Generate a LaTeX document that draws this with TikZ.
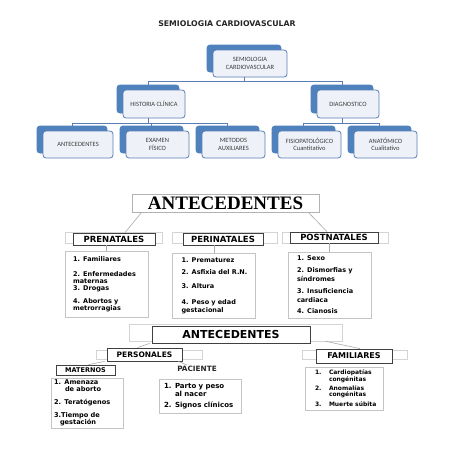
\documentclass[tikz,border=0pt]{standalone}
\usepackage{fontspec}
\setmainfont{DejaVu Sans}
\newfontfamily\calfont{Carlito}
\newfontfamily\timesfont{Liberation Serif}
\usetikzlibrary{shadows}
\definecolor{blueback}{HTML}{4F81BD}
\definecolor{blueline}{HTML}{5B7DB5}
\definecolor{bluefront}{HTML}{EEF2F8}
\definecolor{txtgray}{HTML}{3A3A3A}
\definecolor{bandgray}{HTML}{D4D4D4}
\definecolor{headgray}{HTML}{404040}
\definecolor{listgray}{HTML}{C4C4C4}

\begin{document}
\begin{tikzpicture}[x=1pt,y=-1pt,
  blbox/.style={draw=blueline, fill=bluefront, rounded corners=3pt, line width=0.8pt,
    minimum height=27pt, inner sep=1pt, align=center, text=txtgray,
    font=\calfont\fontsize{6.5}{7.5}\selectfont,
    copy shadow={shadow xshift=-6pt, shadow yshift=5pt, fill=blueback, draw=blueback}},
  link/.style={draw=blueline, line width=0.9pt},
  band/.style={draw=bandgray, line width=0.5pt, fill=white, inner sep=0pt},
  head/.style={draw=headgray, line width=0.8pt, fill=white, inner sep=0pt,
    font=\bfseries\fontsize{8.5}{9}\selectfont},
  listbox/.style={draw=listgray, line width=0.6pt, fill=white, align=left, inner ysep=0pt,
    inner xsep=8pt, font=\bfseries\fontsize{6.5}{7}\selectfont},
  spoke/.style={draw=gray!65, line width=0.6pt}]
\fill[white] (0,0) rectangle (453,453);
\useasboundingbox (0,0) rectangle (453,453);

% first chart
\node[font=\bfseries\fontsize{7.8}{8}\selectfont, text=black!85] (title) at (227,24) {SEMIOLOGIA CARDIOVASCULAR};
\node[blbox, minimum width=74pt] (semio) at (250,63.5) {SEMIOLOGIA\\CARDIOVASCULAR};
\node[blbox, minimum width=62pt, minimum height=28pt] (hist) at (154,104) {HISTORIA CLÍNICA};
\node[blbox, minimum width=62pt, minimum height=28pt] (diag) at (348,104) {DIAGNOSTICO};
\node[blbox, minimum width=70pt] (ant1) at (78,144.5) {ANTECEDENTES};
\node[blbox, minimum width=63pt] (exam) at (157.5,144.5) {EXAMEN\\FÍSICO};
\node[blbox, minimum width=63pt] (meto) at (233.5,144.5) {METODOS\\AUXILIARES};
\node[blbox, minimum width=63pt] (fisio) at (309.5,144.5) {FISIOPATOLÓGICO\\Cuantitativo};
\node[blbox, minimum width=63pt] (anat) at (385.5,144.5) {ANATÓMICO\\Cualitativo};

\draw[link] ([xshift=-6pt]semio.south) -- ++(0,4) coordinate (hub1);
\draw[link] (hub1) -| ([xshift=-6pt,yshift=5pt]hist.north);
\draw[link] (hub1) -| ([xshift=-6pt,yshift=5pt]diag.north);
\draw[link] ([xshift=-6pt]hist.south) -- ++(0,5) coordinate (hub2);
\draw[link] (hub2) -| ([xshift=-6pt,yshift=5pt]ant1.north);
\draw[link] (hub2) -| ([xshift=-6pt,yshift=5pt]exam.north);
\draw[link] (hub2) -| ([xshift=-6pt,yshift=5pt]meto.north);
\draw[link] ([xshift=-6pt]diag.south) -- ++(0,5) coordinate (hub3);
\draw[link] (hub3) -| ([xshift=-6pt,yshift=5pt]fisio.north);
\draw[link] (hub3) -| ([xshift=-6pt,yshift=5pt]anat.north);

% second chart
\node[draw=gray!60, line width=0.8pt, minimum width=187pt, minimum height=18pt, inner sep=0pt,
  font=\timesfont\bfseries\fontsize{19}{19}\selectfont] (ant2) at (225.5,203) {ANTECEDENTES};
\node[band, minimum width=97pt, minimum height=11pt] (prebar) at (113.5,237.5) {};
\node[head, minimum width=82pt, minimum height=12pt] (pre) at (114,239) {PRENATALES};
\node[band, minimum width=105pt, minimum height=11pt] (peribar) at (224.5,237.5) {};
\node[head, minimum width=80pt, minimum height=12pt] (peri) at (223,239) {PERINATALES};
\node[band, minimum width=106pt, minimum height=11pt] (postbar) at (335,237.5) {};
\node[head, minimum width=88pt, minimum height=11pt] (post) at (334,237.5) {POSTNATALES};
\draw[spoke] ([xshift=10pt]ant2.south west) -- ([xshift=11pt]pre.north);
\draw[spoke] ([xshift=-11pt]ant2.south east) -- ([xshift=-7pt]post.north);

\node[listbox, text width=67pt, minimum height=66pt] (prelist) at (106.5,284)
  {1. Familiares\\[8pt]\mbox{2. Enfermedades}\\maternas\\3. Drogas\\[6pt]4. Abortos y\\metrorragias};
\node[listbox, text width=65pt, inner xsep=9pt, minimum height=65pt] (perilist) at (214,285.5)
  {1. Prematurez\\[5pt]\mbox{2. Asfixia del R.N.}\\[7pt]3. Altura\\[9pt]4. Peso y edad\\[1pt]gestacional};
\node[listbox, text width=65pt, inner xsep=9pt, minimum height=66pt] (postlist) at (329.5,285)
  {1. Sexo\\[5pt]\mbox{2. Dismorfias y}\\[2pt]síndromes\\[5pt]\mbox{3. Insuficiencia}\\[2pt]cardiaca\\[4pt]4. Cianosis};
\draw[spoke] (pre.south -| prelist.north) -- (prelist.north);
\draw[spoke] (peri.south -| perilist.north) -- (perilist.north);
\draw[spoke] (post.south -| postlist.north) -- (postlist.north);

% third chart
\node[band, minimum width=213pt, minimum height=17pt] (ant3bar) at (235.5,332.5) {};
\node[head, minimum width=158pt, minimum height=17pt, font=\bfseries\fontsize{11}{11}\selectfont] (ant3) at (231,334.5) {ANTECEDENTES};
\node[band, minimum width=106pt, minimum height=9pt] (persbar) at (149,354.5) {};
\node[head, minimum width=75pt, minimum height=13pt, font=\bfseries\fontsize{7.5}{8}\selectfont] (pers) at (144.5,354.5) {PERSONALES};
\node[band, minimum width=105pt, minimum height=9pt] (famibar) at (354.5,354.5) {};
\node[head, minimum width=76pt, minimum height=14pt, font=\bfseries\fontsize{8}{8}\selectfont] (fami) at (354,356) {FAMILIARES};
\draw[spoke] ([xshift=-2pt]ant3.south west) -- ([xshift=-7pt]pers.north);
\draw[spoke] ([xshift=-17pt]ant3bar.south east) -- ([xshift=6pt]fami.north);

\node[head, minimum width=59pt, minimum height=10pt, font=\bfseries\fontsize{6.5}{7}\selectfont] (mat) at (85.5,370) {MATERNOS};
\node[font=\bfseries\fontsize{7.3}{7.3}\selectfont, inner sep=1pt, text=black!85] (paci) at (197,369) {PACIENTE};
\draw[spoke] ([xshift=-2pt]pers.south west) -- ([xshift=3pt]mat.north);
\draw[spoke] ([xshift=-4pt]pers.south east) -- ([xshift=-10pt]paci.north);

\node[listbox, inner xsep=3pt, text width=66pt, minimum height=50pt, font=\bfseries\fontsize{6.6}{6.6}\selectfont] (matlist) at (87,403)
  {1. Amenaza\\\hspace*{11pt}de aborto\\[6.5pt]\mbox{2. Teratógenos}\\[6.5pt]3.Tiempo de\\\hspace*{6pt}gestación};
\node[listbox, inner xsep=5pt, text width=72pt, minimum height=34pt, font=\bfseries\fontsize{7}{6.5}\selectfont] (pacilist) at (200,396)
  {1. Parto y peso\\\hspace*{11pt}al nacer\\[4.5pt]\mbox{2. Signos clínicos}};
\node[listbox, inner xsep=0pt, text width=78pt, minimum height=43pt, font=\bfseries\fontsize{6}{6}\selectfont] (famlist) at (344,388.5)
  {\hspace*{10pt}\makebox[14pt][l]{1.}Cardiopatías\\\hspace*{24pt}congénitas\\[2pt]\hspace*{10pt}\makebox[14pt][l]{2.}Anomalías\\\hspace*{24pt}congénitas\\[3pt]\hspace*{10pt}\makebox[14pt][l]{3.}Muerte súbita};
\end{tikzpicture}
\end{document}
